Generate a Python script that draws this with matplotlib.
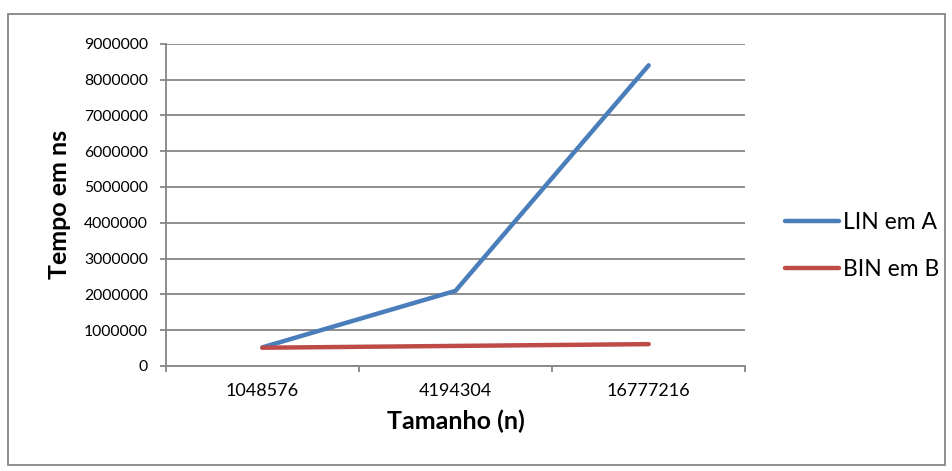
import matplotlib.pyplot as plt
from matplotlib.patches import Rectangle

plt.rcParams['font.family'] = ['Lato', 'DejaVu Sans']

# tamanhos do vetor e tempos medidos (ns)
tamanhos = ['1048576', '4194304', '16777216']
lin_em_a = [520000, 2100000, 8400000]
bin_em_b = [510000, 560000, 610000]

azul = '#4A7EBB'
vermelho = '#BE4B48'
cinza = '#868686'

fig = plt.figure(figsize=(9.53, 4.71), dpi=100)
ax = fig.add_axes([0.174, 0.223, 0.608, 0.684])

x = list(range(len(tamanhos)))
l1, = ax.plot(x, lin_em_a, color=azul, lw=3.2, solid_capstyle='round', solid_joinstyle='miter')
l2, = ax.plot(x, bin_em_b, color=vermelho, lw=3.2, solid_capstyle='round')

ax.set_xlim(-0.5, len(tamanhos) - 0.5)
ax.set_ylim(0, 9000000)
ax.set_yticks(range(0, 9000001, 1000000))
ax.set_yticklabels([str(v) for v in range(0, 9000001, 1000000)])

# ticks entre as categorias, rótulos no centro
ax.set_xticks([i - 0.5 for i in range(len(tamanhos) + 1)])
ax.set_xticklabels([])
ax.set_xticks(x, minor=True)
ax.set_xticklabels(tamanhos, minor=True)
ax.tick_params(axis='x', which='minor', length=0, pad=12.5, labelsize=13)
ax.tick_params(axis='x', which='major', length=4.5, width=1.3, color=cinza, direction='out')
ax.tick_params(axis='y', length=4.5, width=1.3, color=cinza, direction='out', labelsize=11.3, pad=8.5)

ax.grid(axis='y', color=cinza, lw=1.3)
ax.set_axisbelow(True)
for s in ['top', 'right']:
    ax.spines[s].set_visible(False)
ax.spines['left'].set_color(cinza)
ax.spines['bottom'].set_color(cinza)
ax.spines['left'].set_linewidth(1.3)
ax.spines['bottom'].set_linewidth(1.3)

ax.set_xlabel('Tamanho (n)', fontsize=18, fontweight='bold', labelpad=7)
ax.set_ylabel('Tempo em ns', fontsize=18, fontweight='bold', labelpad=9)

leg = fig.legend([l1, l2], ['LIN em A', 'BIN em B'], loc='center left',
                 bbox_to_anchor=(0.802, 0.478), frameon=False, fontsize=16.5,
                 handlelength=2.35, handletextpad=0.17, labelspacing=1.12)

# moldura externa
fig.patches.append(Rectangle((0.0085, 0.012), 0.983, 0.958, transform=fig.transFigure,
                             fill=False, edgecolor=cinza, lw=1.3))

fig.savefig('out.png', dpi=100)
